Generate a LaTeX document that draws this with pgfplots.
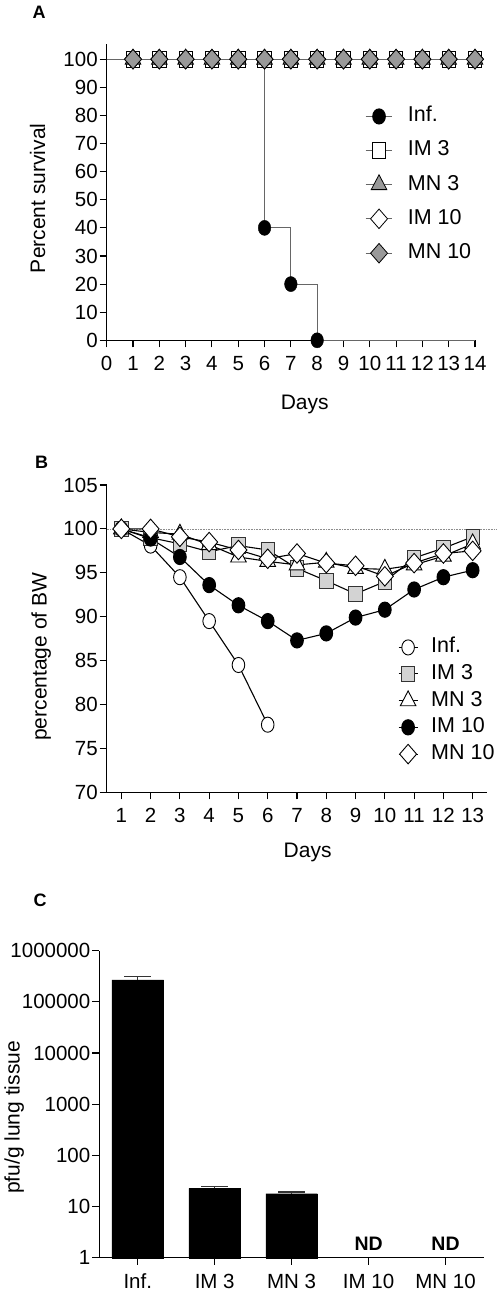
\documentclass[border=0pt]{standalone}
\usepackage{fontspec}
\setmainfont{Liberation Sans}
\usepackage{pgfplots}
\pgfplotsset{compat=1.18}
\definecolor{lgray}{HTML}{D3D3D3}
\definecolor{mgray}{HTML}{999999}
\definecolor{lineg}{HTML}{666666}
\begin{document}
\begin{tikzpicture}
\path[use as bounding box] (0pt,0pt) rectangle (498pt,-1292pt);
\pgfplotsset{
  common/.style={
    scale only axis,
    axis x line*=bottom, axis y line*=left,
    axis line style={-, line width=1.1pt, black},
    xtick pos=bottom, ytick pos=left,
    tick align=outside, major tick length=7pt,
    tick style={line width=1.1pt, black},
    ticklabel style={font=\fontsize{20.5}{24}\selectfont},
    xticklabel style={yshift=-5.5pt},
    yticklabel style={xshift=1.5pt},
    label style={font=\fontsize{21}{25}\selectfont},
    /pgf/number format/assume math mode=true,
    clip=false,
    anchor=south west,
  },
  mylegend/.style n args={4}{
    legend style={at={(axis description cs:#1,#2)}, anchor=north west, draw=none, fill=none,
      inner sep=0pt, row sep=#3, column sep=#4,
      font=\fontsize{21.5}{25}\selectfont,
      nodes={inner sep=0pt, text height=15pt, text depth=4pt}},
    legend cell align=left,
  },
}
% ---------------- Panel A ----------------
\begin{axis}[common, at={(106.7pt,-340.3pt)}, width=368.3pt, height=296pt,
  xmin=0, xmax=14, ymin=0, ymax=105.3,
  xtick={0,...,14}, ytick={0,10,...,100},
  xlabel={Days}, ylabel={Percent survival},
  xlabel style={at={(axis description cs:0.5376,-0.2331)}, anchor=base},
  ylabel style={at={(axis description cs:-0.1675,0.4797)}, anchor=base},
  mylegend={0.7013}{0.789}{14.9pt}{15pt},
  legend image code/.code={\draw[mark repeat=2,mark phase=2,#1] plot coordinates {(0pt,0pt) (13.35pt,0pt) (26.7pt,0pt)};},
]
\addlegendimage{lineg, line width=1pt, mark=*, mark size=6.3, mark options={yscale=1.2, fill=black, draw=black}}
\addlegendentry{Inf.}
\addlegendimage{lineg, line width=1pt, mark=square*, mark size=6.7, mark options={yscale=1.15, fill=white, draw=black, line width=0.8pt}}
\addlegendentry{IM 3}
\addlegendimage{lineg, line width=1pt, mark=triangle*, mark size=9, mark options={yscale=1.1, fill=mgray, draw=black, line width=0.8pt}}
\addlegendentry{MN 3}
\addlegendimage{lineg, line width=1pt, mark=square*, mark size=6.0, mark options={yscale=1.15, rotate=45, fill=white, draw=black, line width=0.8pt}}
\addlegendentry{IM 10}
\addlegendimage{lineg, line width=1pt, mark=square*, mark size=6.0, mark options={yscale=1.15, rotate=45, fill=mgray, draw=black, line width=0.8pt}}
\addlegendentry{MN 10}
% survival lines
\addplot[lineg, line width=1pt, forget plot] coordinates {(0,100) (14,100)};
\addplot[lineg, line width=1pt, const plot, forget plot] coordinates {(0,100) (6,40) (7,20) (8,0) (14,0)};
% marks
\addplot[only marks, forget plot, mark=*, mark size=6.3, mark options={yscale=1.2, fill=black, draw=black}]
  coordinates {(1,100) (2,100) (3,100) (4,100) (5,100) (6,40) (7,20) (8,0)};
\addplot[only marks, forget plot, mark=square*, mark size=6.7, mark options={yscale=1.15, fill=white, draw=black, line width=0.8pt}]
  coordinates {(1,100) (2,100) (3,100) (4,100) (5,100) (6,100) (7,100) (8,100) (9,100) (10,100) (11,100) (12,100) (13,100) (14,100)};
\addplot[only marks, forget plot, mark=triangle*, mark size=9, mark options={yscale=1.1, fill=mgray, draw=black, line width=0.8pt}]
  coordinates {(1,100) (2,100) (3,100) (4,100) (5,100) (6,100) (7,100) (8,100) (9,100) (10,100) (11,100) (12,100) (13,100) (14,100)};
\addplot[only marks, forget plot, mark=square*, mark size=6.0, mark options={yscale=1.15, rotate=45, fill=white, draw=black, line width=0.8pt}]
  coordinates {(1,100) (2,100) (3,100) (4,100) (5,100) (6,100) (7,100) (8,100) (9,100) (10,100) (11,100) (12,100) (13,100) (14,100)};
\addplot[only marks, forget plot, mark=square*, mark size=6.0, mark options={yscale=1.15, rotate=45, fill=mgray, draw=black, line width=0.8pt}]
  coordinates {(1,100) (2,100) (3,100) (4,100) (5,100) (6,100) (7,100) (8,100) (9,100) (10,100) (11,100) (12,100) (13,100) (14,100)};
\end{axis}
% ---------------- Panel B ----------------
\begin{axis}[common, at={(106.7pt,-792.3pt)}, width=380.6pt, height=307.3pt,
  xmin=0.5, xmax=13.5, ymin=70, ymax=105,
  xtick={1,...,13}, ytick={70,75,...,105},
  xlabel={Days}, ylabel={percentage of BW},
  xlabel style={at={(axis description cs:0.528,-0.2115)}, anchor=base},
  ylabel style={at={(axis description cs:-0.158,0.441)}, anchor=base},
  mylegend={0.765}{0.503}{7.5pt}{13pt},
  legend image code/.code={\draw[mark repeat=2,mark phase=2,#1] plot coordinates {(0pt,0pt) (9.5pt,0pt) (19pt,0pt)};},
]
\draw[black!45, densely dotted, line width=0.6pt] (axis cs:0.5,100) -- (axis cs:13.83,100);
\addplot[black, line width=1.1pt, mark=*, mark size=6.3, mark options={yscale=1.2, fill=white, draw=black, line width=0.9pt}]
  coordinates {(1,100) (2,98.1) (3,94.5) (4,89.5) (5,84.5) (6,77.7)};
\addlegendentry{Inf.}
\addplot[black, line width=1.1pt, mark=square*, mark size=6.7, mark options={yscale=1.15, fill=lgray, draw=black!80, line width=0.9pt}]
  coordinates {(1,100) (2,99.0) (3,98.3) (4,97.4) (5,98.1) (6,97.6) (7,95.5) (8,94.1) (9,92.6) (10,94.0) (11,96.7) (12,97.8) (13,99.1)};
\addlegendentry{IM 3}
\addplot[black, line width=1.1pt, mark=triangle*, mark size=9, mark options={yscale=1.1, fill=white, draw=black, line width=0.9pt}]
  coordinates {(1,100) (2,99.6) (3,99.4) (4,98.2) (5,96.8) (6,96.3) (7,95.9) (8,96.2) (9,95.5) (10,95.4) (11,95.9) (12,96.9) (13,98.3)};
\addlegendentry{MN 3}
\addplot[black, line width=1.1pt, mark=*, mark size=6.3, mark options={yscale=1.2, fill=black, draw=black}]
  coordinates {(1,100) (2,98.9) (3,96.8) (4,93.6) (5,91.3) (6,89.5) (7,87.3) (8,88.1) (9,89.9) (10,90.8) (11,93.1) (12,94.5) (13,95.3)};
\addlegendentry{IM 10}
\addplot[black, line width=1.1pt, mark=square*, mark size=6.0, mark options={yscale=1.15, rotate=45, fill=white, draw=black, line width=0.9pt}]
  coordinates {(1,100) (2,100.0) (3,99.1) (4,98.5) (5,97.6) (6,96.6) (7,97.2) (8,96.1) (9,95.8) (10,94.6) (11,96.1) (12,97.2) (13,97.5)};
\addlegendentry{MN 10}
\end{axis}
% ---------------- Panel C ----------------
\begin{axis}[common, at={(99.3pt,-1257.7pt)}, width=384.7pt, height=307pt,
  xmin=-0.5, xmax=4.5, ymode=log, ymin=1, ymax=1000000, yminorticks=false,
  xtick={0,1,2,3,4}, xticklabels={Inf., IM 3, MN 3, IM 10, MN 10},
  ytick={1,10,100,1000,10000,100000,1000000},
  yticklabels={1,10,100,1000,10000,100000,1000000},
  ylabel={pfu/g lung tissue},
  ylabel style={at={(axis description cs:-0.207,0.4567)}, anchor=base},
]
\addplot[ybar, bar width=0.67, fill=black, draw=black,
  error bars/.cd, y dir=plus, y explicit,
  error bar style={line width=1.3pt, color=black!80},
  error mark options={rotate=90, line width=1.3pt, mark size=13.5pt, color=black!80}]
  coordinates {(0,269000) +- (0,49000) (1,22.7) +- (0,2.1) (2,17.8) +- (0,1.4)};
\node[font=\bfseries\fontsize{19.5}{23}\selectfont, anchor=base, inner sep=0pt] at (axis cs:3,1.41) {ND};
\node[font=\bfseries\fontsize{19.5}{23}\selectfont, anchor=base, inner sep=0pt] at (axis cs:4,1.41) {ND};
\end{axis}
% panel letters
\node[anchor=base west, inner sep=0pt, font=\bfseries\fontsize{18}{20}\selectfont] at (32.3pt,-18.3pt) {A};
\node[anchor=base west, inner sep=0pt, font=\bfseries\fontsize{18}{20}\selectfont] at (35pt,-468.3pt) {B};
\node[anchor=base west, inner sep=0pt, font=\bfseries\fontsize{18}{20}\selectfont] at (33.3pt,-906pt) {C};
\end{tikzpicture}
\end{document}
